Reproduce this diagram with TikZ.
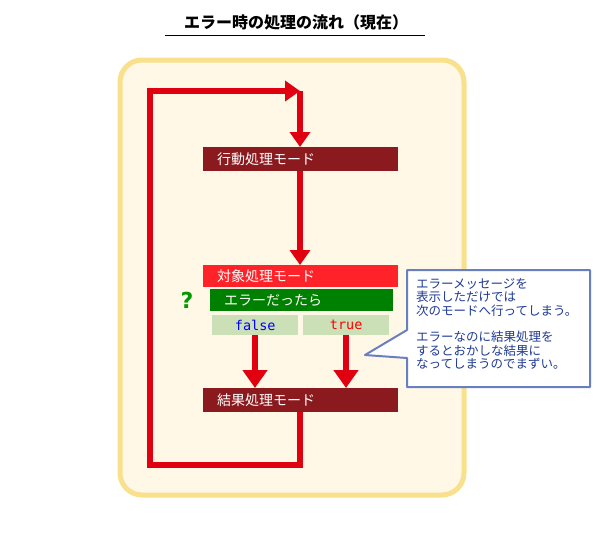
\documentclass[tikz,border=0pt]{standalone}
\usepackage{fontspec}
\newfontfamily\jp{Noto Sans CJK JP}
\newfontfamily\mono{DejaVu Sans Mono}
\newfontfamily\qfont{DejaVu Sans}
\usetikzlibrary{positioning,arrows.meta}
\definecolor{cream}{HTML}{FFF8E6}
\definecolor{frameyel}{HTML}{F8E08C}
\definecolor{darkred}{HTML}{8B1A1E}
\definecolor{brightred}{HTML}{FF2228}
\definecolor{flowred}{HTML}{E0000F}
\definecolor{okgreen}{HTML}{008000}
\definecolor{palegreen}{HTML}{CCE0B8}
\definecolor{calloutblue}{HTML}{6A7FC0}
\definecolor{textblue}{HTML}{1F3A93}
\begin{document}
\begin{tikzpicture}[x=1pt,y=-1pt,
    mode/.style={anchor=north west,minimum width=195pt,minimum height=24pt,text=white,font=\jp\fontsize{14}{16}\selectfont,inner xsep=14pt,text width=167pt,align=left},
    cond/.style={anchor=north west,minimum height=20pt,font=\mono\fontsize{13.5}{15}\selectfont,fill=palegreen,minimum width=86pt},
    flow/.style={draw=flowred,line width=6pt,-{Triangle[length=15pt,width=20pt]}},
    wide/.style={-{Triangle[length=18pt,width=24pt]}},
]
    \useasboundingbox (0,0) rectangle (600,539);
    \node[font=\jp\bfseries\fontsize{16}{18}\selectfont] (title) at (296,22) {エラー時の処理の流れ（現在）};
    \draw[line width=1pt] (165,35) -- (425,35);
    \draw[draw=frameyel,fill=cream,line width=5pt,rounded corners=22pt] (120,60) rectangle (464,495);

    \node[mode,fill=darkred] (act) at (203,147) {行動処理モード};
    \node[mode,fill=brightred,minimum height=22pt] (tgt) at (203,265) {対象処理モード};
    \node[mode,fill=okgreen,minimum width=183pt,minimum height=22pt,text width=155pt,inner ysep=0pt] (err) at (210,289) {エラーだったら};
    \node[cond,text=blue] (no) at (212,315) {false};
    \node[cond,text=red] (yes) at (303,315) {true};
    \node[mode,fill=darkred] (res) at (203,388) {結果処理モード};
    \node[text=okgreen!80!green,font=\qfont\bfseries\fontsize{22}{22}\selectfont] (q) at (187,300) {?};

    \coordinate (top) at (300,91);
    \draw[flow] (res.south -| top) -- (300,465) -- (150,465) -- (150,91) -- (top);
    \draw[flow] (top) -- (act.north -| top);
    \draw[flow] (act.south -| top) -- (tgt.north -| top);
    \draw[flow,wide] (no.south -| 255,0) -- (res.north -| 255,0);
    \draw[flow,wide] (yes.south -| 346,0) -- (res.north -| 346,0);

    \draw[draw=calloutblue,fill=white,line width=2pt,line join=round]
        (407,270) -- (590,270) -- (590,387) -- (407,387) -- (407,358) -- (365,355) -- (407,330) -- cycle;
    \node[anchor=north west,text=textblue,font=\jp\fontsize{12.5}{13.5}\selectfont,align=left,inner sep=0pt] (note) at (416,278)
        {エラーメッセージを\\表示しただけでは\\次のモードへ行ってしまう。\\[13pt]エラーなのに結果処理を\\するとおかしな結果に\\なってしまうのでまずい。};
\end{tikzpicture}
\end{document}
